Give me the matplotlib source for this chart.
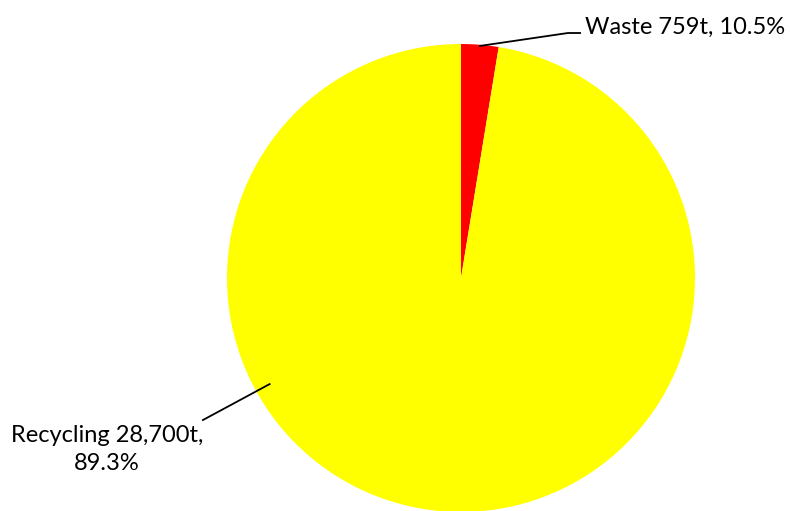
import matplotlib
matplotlib.use("Agg")
import matplotlib.pyplot as plt
import numpy as np

labels = ["Waste 759t, 10.5%", "Recycling 28,700t,\n89.3%"]
tonnes = [759, 28700]
colours = ["#ff0000", "#ffff00"]

plt.rcParams['font.family'] = ['Lato', 'DejaVu Sans']

fig = plt.figure(figsize=(7.9, 5.11), dpi=100)
# pie centre around (461, 278) px, radius 234 px
R = 234
ax = fig.add_axes([(461 - R) / 790, (511 - 278 - R) / 511, 2 * R / 790, 2 * R / 511])
wedges, _ = ax.pie(tonnes, colors=colours, startangle=90, counterclock=False, radius=1)
ax.set_xlim(-1, 1)
ax.set_ylim(-1, 1)
ax.set_aspect("auto")
ax.axis("off")

# waste label: leader from wedge middle
w = wedges[0]
mid = np.deg2rad((w.theta1 + w.theta2) / 2)
p0 = (0.995 * np.cos(mid), 0.995 * np.sin(mid))
ax.plot([p0[0], 0.457, 0.509], [p0[1], 1.047, 1.047], color="black", lw=1.3, clip_on=False)
ax.text(0.528, 1.07, labels[0], fontsize=17, ha="left", va="center")

# recycling label
a = np.deg2rad(209)
p1 = (0.935 * np.cos(a), 0.935 * np.sin(a))
ax.plot([p1[0], -1.103], [p1[1], -0.607], color="black", lw=1.3, clip_on=False)
ax.text(-1.513, -0.733, labels[1], fontsize=17, ha="center", va="center", linespacing=1.45)

fig.savefig("out.png", dpi=100)
